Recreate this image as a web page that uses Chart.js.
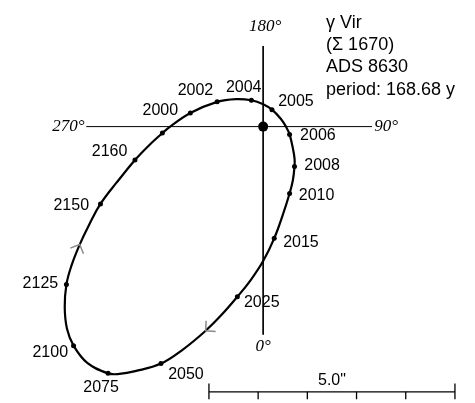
<!DOCTYPE html>
<html><head><meta charset="utf-8">
<script src="https://cdn.jsdelivr.net/npm/chart.js@4"></script>
<style>html,body{margin:0;padding:0;background:#fff;}canvas{display:block;}</style>
</head><body>
<canvas id="c" width="475" height="403"></canvas>
<script>
// ---- Data (arcseconds; companion relative to primary; x to the right, y up) ----
const epochLabels = ['2000','2002','2004','2005','2006','2008','2010','2015','2025','2050','2075','2100','2125','2150','2160'];
const epochX = [-1.480,-0.935,-0.239,0.179,0.537,0.637,0.537,0.225,-0.525,-2.077,-3.152,-3.854,-3.999,-3.307,-2.606];
const epochY = [0.279,0.505,0.537,0.346,-0.159,-0.816,-1.365,-2.280,-3.472,-4.835,-5.034,-4.469,-3.223,-1.578,-0.682];
const extraDotX = [-2.049];
const extraDotY = [-0.133];
// orbit trace, in order of motion (wraps past its start)
const orbitX = [-2.973,-2.606,-2.322,-2.049,-1.904,-1.480,-0.935,-0.551,-0.239,0.000,0.179,0.358,0.470,0.537,0.603,0.639,0.637,0.603,0.537,0.394,0.225,0.000,-0.253,-0.525,-0.850,-1.168,-1.632,-2.077,-2.600,-2.925,-3.152,-3.575,-3.854,-3.987,-4.033,-3.999,-3.894,-3.729,-3.534,-3.307,-2.973,-2.606];
const orbitY = [-1.134,-0.682,-0.384,-0.133,-0.010,0.279,0.505,0.561,0.537,0.458,0.346,0.159,-0.012,-0.159,-0.438,-0.663,-0.816,-1.100,-1.365,-1.817,-2.280,-2.742,-3.130,-3.472,-3.846,-4.164,-4.548,-4.835,-4.990,-5.046,-5.034,-4.821,-4.469,-4.125,-3.687,-3.223,-2.830,-2.407,-1.996,-1.578,-1.134,-0.682];
const arrowIndex = [25, 37];
const scaleBarLength = 5.0;           // arcsec
const scaleBarTicks = [0,1,2,3,4,5];  // arcsec
const infoLines = ['γ Vir','(Σ 1670)','ADS 8630','period: 168.68 y'];
const angleLabels = ['180°','90°','0°','270°'];

// ---- Layout ----
const X_MIN=-5.247, X_MAX=4.204, Y_MIN=-5.537, Y_MAX=2.481;
const AX = {top:1.645, bottom:-4.244, left:-3.595, right:2.214};
const BAR = {x0:-1.102, y:-5.412, endTop:-5.239, tickBottom:-5.56};
const labelOffset = {
  '2000':[-30,-2.4],'2002':[-21.7,-11],'2004':[-7.7,-12.7],'2005':[24,-8.3],'2006':[28.3,1.3],
  '2008':[27.6,-1.4],'2010':[27,1.7],'2015':[26.7,4.7],'2025':[24.4,6],'2050':[25,11.3],
  '2075':[-7,14],'2100':[-23.3,6.7],'2125':[-26,-0.7],'2150':[-29.2,2],'2160':[-25.4,-8.3]
};

const pts = (xs,ys)=>xs.map((x,i)=>({x,y:ys[i]}));
const lineDs = (data,w,color)=>({data,showLine:true,borderColor:color||'#000',borderWidth:w,pointRadius:0,tension:0,clip:false});

const datasets = [
  lineDs([{x:0,y:AX.top},{x:0,y:AX.bottom}],1),
  lineDs([{x:AX.left,y:0},{x:AX.right,y:0}],1),
  {data:pts(orbitX,orbitY),showLine:true,borderColor:'#000',borderWidth:2.2,tension:0.4,pointRadius:0,clip:false},
  {data:pts(epochX,epochY),showLine:false,pointRadius:2.5,backgroundColor:'#000',borderWidth:0},
  {data:pts(extraDotX,extraDotY),showLine:false,pointRadius:2.5,backgroundColor:'#000',borderWidth:0},
  {data:[{x:0,y:0}],showLine:false,pointRadius:5,backgroundColor:'#000',borderWidth:0},
  lineDs([{x:BAR.x0,y:BAR.y},{x:BAR.x0+scaleBarLength,y:BAR.y}],1.3)
];
scaleBarTicks.forEach(t=>{
  const end = (t===0||t===scaleBarLength);
  datasets.push(lineDs([{x:BAR.x0+t,y:end?BAR.endTop:BAR.y},{x:BAR.x0+t,y:BAR.tickBottom}],1.3));
});

const overlay = {
  id:'overlay',
  afterDatasetsDraw(chart){
    const {ctx} = chart, sx=chart.scales.x, sy=chart.scales.y;
    const px=v=>sx.getPixelForValue(v), py=v=>sy.getPixelForValue(v);
    ctx.save();
    // direction chevrons
    ctx.strokeStyle='#8a8a8a'; ctx.lineWidth=1.5;
    arrowIndex.forEach(i=>{
      const x=px(orbitX[i]), y=py(orbitY[i]);
      const dx=px(orbitX[i+1])-px(orbitX[i-1]), dy=py(orbitY[i+1])-py(orbitY[i-1]);
      const a=Math.atan2(dy,dx), L=10, h=0.8;
      ctx.beginPath();
      ctx.moveTo(x-L*Math.cos(a-h), y-L*Math.sin(a-h));
      ctx.lineTo(x,y);
      ctx.lineTo(x-L*Math.cos(a+h), y-L*Math.sin(a+h));
      ctx.stroke();
    });
    ctx.fillStyle='#000';
    ctx.textAlign='center'; ctx.textBaseline='middle';
    ctx.font='16px "Liberation Sans", Arial, sans-serif';
    epochLabels.forEach((t,i)=>{
      const o=labelOffset[t];
      ctx.fillText(t, px(epochX[i])+o[0], py(epochY[i])+o[1]);
    });
    // angle labels
    ctx.font='italic 17px "Liberation Serif", "Times New Roman", serif';
    ctx.fillText(angleLabels[0], px(0)+2, py(AX.top)-19);
    ctx.fillText(angleLabels[1], px(AX.right)+14, py(0));
    ctx.fillText(angleLabels[2], px(0), py(AX.bottom)+12);
    ctx.fillText(angleLabels[3], px(AX.left)-18, py(0));
    // scale bar label
    ctx.font='16px "Liberation Sans", Arial, sans-serif';
    ctx.fillText(scaleBarLength.toFixed(1)+'"', px(BAR.x0+scaleBarLength/2), py(BAR.y)-11);
    // info block
    ctx.textAlign='left';
    ctx.font='18px "Liberation Sans", Arial, sans-serif';
    infoLines.forEach((t,i)=>ctx.fillText(t, 326, 23+i*22.2));
    ctx.restore();
  }
};

new Chart(document.getElementById('c'),{
  type:'scatter',
  data:{datasets},
  options:{
    responsive:false, animation:false, devicePixelRatio:1,
    layout:{padding:0},
    plugins:{legend:{display:false},tooltip:{enabled:false},title:{display:false}},
    scales:{
      x:{type:'linear',display:false,min:X_MIN,max:X_MAX},
      y:{type:'linear',display:false,min:Y_MIN,max:Y_MAX}
    }
  },
  plugins:[overlay]
});
</script>
</body></html>
